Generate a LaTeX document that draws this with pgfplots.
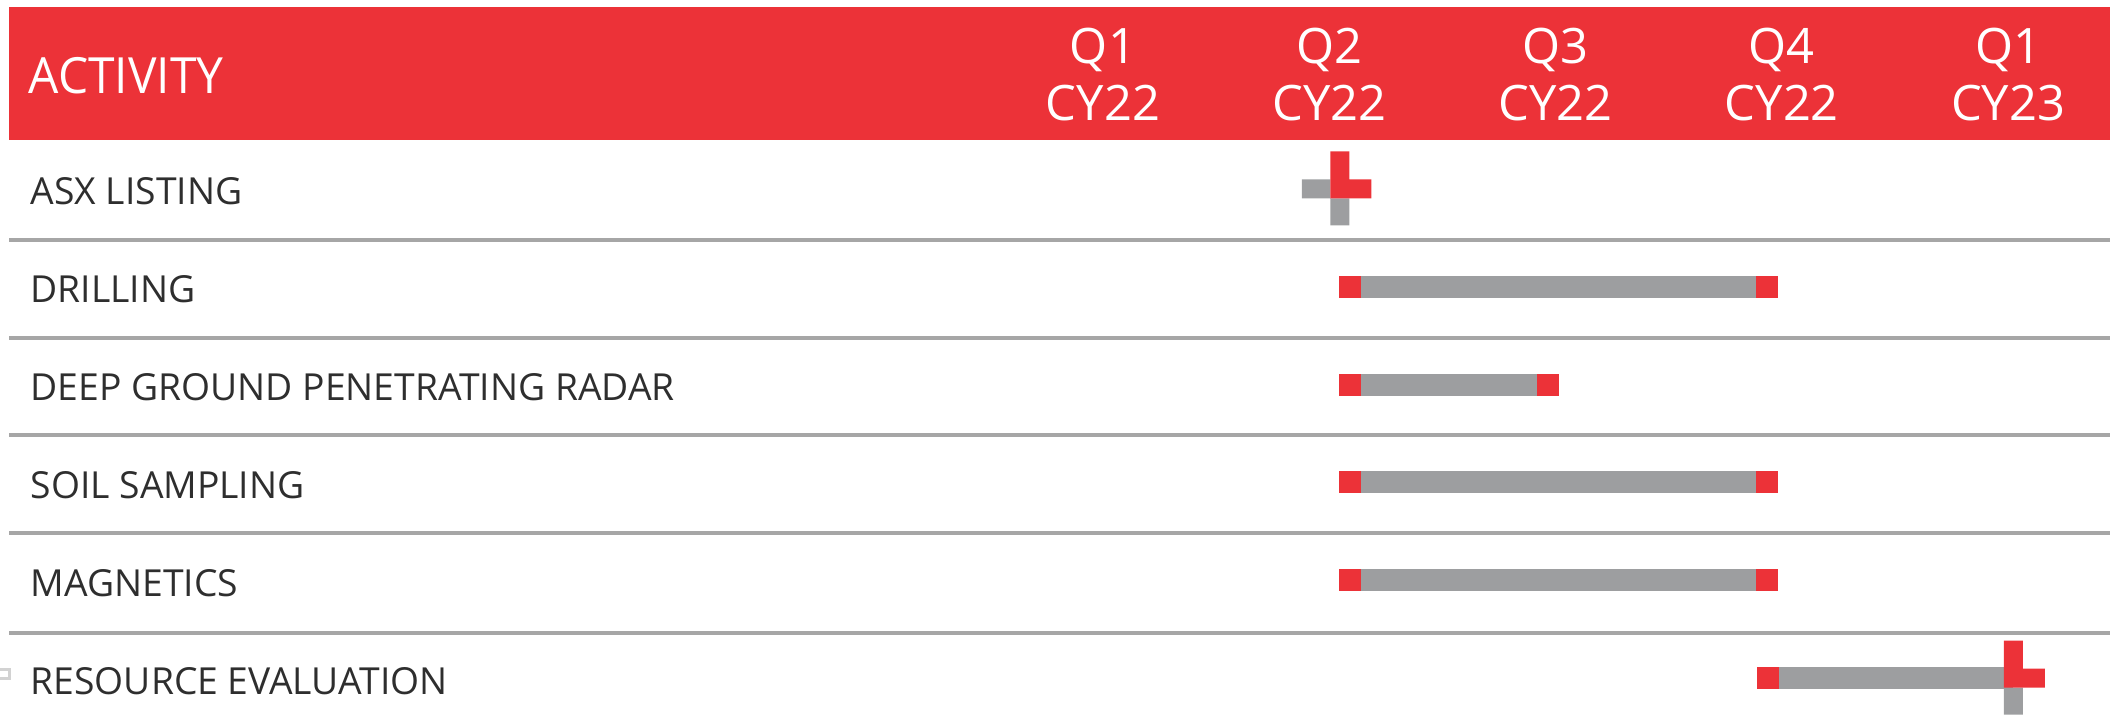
\documentclass[border=0pt]{standalone}
\usepackage{pgfplots}
\pgfplotsset{compat=1.18}
\usepackage{pgfplotstable}
\usepackage{fontspec}
\setmainfont{Open Sans}
\newfontfamily\hdrfont{Open Sans}[FakeStretch=0.96]
\definecolor{hdrRed}{HTML}{EC3238}
\definecolor{barGray}{HTML}{9D9EA0}
\definecolor{sepGray}{HTML}{A6A6A6}
\definecolor{txt}{HTML}{2E2E2E}

\pgfdeclareplotmark{endsq}{%
  \pgfsetfillcolor{hdrRed}%
  \pgfpathrectangle{\pgfpoint{-1.1mm}{-1.1mm}}{\pgfpoint{2.2mm}{2.2mm}}%
  \pgfusepathqfill}
\pgfdeclareplotmark{milestone}{%
  \pgfsetfillcolor{barGray}%
  \pgfpathrectangle{\pgfpoint{-3.8mm}{-0.95mm}}{\pgfpoint{2.85mm}{1.9mm}}%
  \pgfpathrectangle{\pgfpoint{-0.95mm}{-3.65mm}}{\pgfpoint{1.9mm}{2.7mm}}%
  \pgfusepathqfill
  \pgfsetfillcolor{hdrRed}%
  \pgfpathrectangle{\pgfpoint{-0.95mm}{-0.95mm}}{\pgfpoint{1.9mm}{4.7mm}}%
  \pgfpathrectangle{\pgfpoint{0.95mm}{-0.95mm}}{\pgfpoint{2.2mm}{1.9mm}}%
  \pgfusepathqfill}

% activity bars: start / finish in quarters (1 = Q1 CY22, 2 = Q2 CY22, ...)
\pgfplotstableread{
row start finish
2 2.092 3.934
3 2.092 2.966
4 2.092 3.934
5 2.092 3.934
6 3.939 5.023
}\bars
% milestones
\pgfplotstableread{
row at
1 2.047
6 5.023
}\milestones

\tikzset{qlabel/.style={anchor=north, inner sep=0pt, align=center, text=white,
  font=\fontsize{13.9}{16.2}\selectfont}}

\begin{document}
\begin{tikzpicture}
\begin{axis}[name=ax, set layers,
  width=211mm, height=72.7mm, scale only axis,
  xmin=-3.874, xmax=5.450, ymin=-0.9325, ymax=6.501, y dir=reverse,
  axis line style={draw=none}, tick style={draw=none}, major tick length=0pt,
  clip=false,
  xtick=\empty,
  ytick={1,2,3,4,5,6},
  yticklabels={ASX LISTING, DRILLING, DEEP GROUND PENETRATING RADAR, SOIL SAMPLING, MAGNETICS, RESOURCE EVALUATION},
  yticklabel style={anchor=west, inner sep=0pt, xshift=3mm, yshift=-0.27mm, text=txt,
    font=\fontsize{10.6}{12}\selectfont},
]
\fill[hdrRed, on layer=axis background] (axis cs:-3.834,-0.861) rectangle (axis cs:5.450,0.5);
\node[anchor=west, inner sep=0pt, text=white, font=\hdrfont\fontsize{14.2}{16}\selectfont]
  at (axis cs:-3.750,-0.156) {ACTIVITY};
\node[qlabel] at (axis cs:1,-0.650) {Q1\\CY22};
\node[qlabel] at (axis cs:2,-0.650) {Q2\\CY22};
\node[qlabel] at (axis cs:3,-0.650) {Q3\\CY22};
\node[qlabel] at (axis cs:4,-0.650) {Q4\\CY22};
\node[qlabel] at (axis cs:5,-0.650) {Q1\\CY23};
\pgfplotsinvokeforeach{1.52,2.52,3.52,4.52,5.535}{
  \draw[sepGray, line width=0.4mm] (axis cs:-3.834,#1) -- (axis cs:5.450,#1);
}
\draw[gray!35, line width=0.3mm] (axis cs:-3.885,5.918) rectangle (axis cs:-3.830,6.010);

\addplot[forget plot, draw=none, error bars/.cd, x dir=plus, x explicit, error mark=none,
  error bar style={draw=barGray, line width=2.2mm, line cap=butt, solid}]
  table[x=start, y=row, x error expr=\thisrow{finish}-\thisrow{start}] {\bars};
\addplot[only marks, mark=endsq] table[x=start, y=row] {\bars};
\addplot[only marks, mark=endsq, skip coords between index={4}{5}] table[x=finish, y=row] {\bars};
\addplot[only marks, mark=milestone] table[x=at, y=row] {\milestones};
\end{axis}
\pgfresetboundingbox
\path (ax.south west) rectangle (ax.north east);
\end{tikzpicture}
\end{document}
